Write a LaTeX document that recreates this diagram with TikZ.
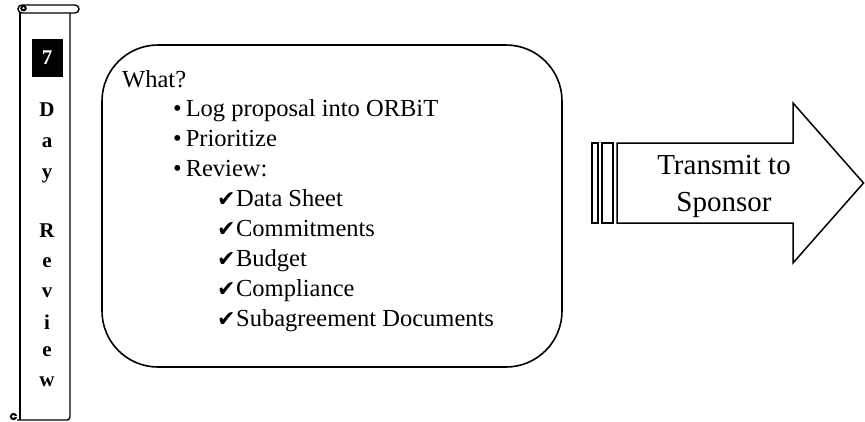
\documentclass[tikz,border=0pt]{standalone}
\usepackage{fontspec}
\setmainfont{Liberation Serif}
\newfontfamily\symfont{DejaVu Sans}
\tikzset{
  outline/.style={draw=black, line width=1.6pt},
  scrollline/.style={draw=black, line width=1.4pt},
  listline/.style={anchor=base west, inner sep=0pt, font=\fontsize{24.5}{28}\selectfont},
  scrollchar/.style={inner sep=0pt, font=\fontsize{21}{23}\selectfont\bfseries},
}
\newcommand{\chk}{{\symfont\fontsize{22}{24}\selectfont ✔}}
\begin{document}
\begin{tikzpicture}[x=1pt,y=-1pt]
\useasboundingbox (0,0) rectangle (865,421);

% ---- vertical scroll ----
\draw[scrollline] (20,13) -- (20,420);
\draw[scrollline, rounded corners=3pt] (70,13) -- (70,420) -- (17,420);
% top roll with its curl
\draw[scrollline, fill=white, rounded corners=4pt] (18,5) rectangle (79,13);
\draw[line width=2pt] (23.5,8.2) circle[radius=2.2pt];
% bottom curl
\draw[line width=2pt] (13.5,416.5) circle[radius=2.6pt];
\fill[white] (15.2,415.8) rectangle (17.5,417.4);

\node[fill=black, minimum width=31pt, minimum height=38pt, inner sep=0pt] (badge) at (47,58) {};
\node[text=white, font=\fontsize{21}{24}\selectfont\bfseries] (seven) at (badge) {7};

\node[scrollchar] (l1) at (47,110) {D};
\node[scrollchar] (l2) at (47,143) {a};
\node[scrollchar] (l3) at (47,176) {y};
\node[scrollchar] (l4) at (47,231) {R};
\node[scrollchar] (l5) at (47,263) {e};
\node[scrollchar] (l6) at (47,293) {v};
\node[scrollchar] (l7) at (47,322) {i};
\node[scrollchar] (l8) at (47,352) {e};
\node[scrollchar] (l9) at (47,382) {w};

% ---- task box ----
\draw[outline, rounded corners=56pt] (102,45) rectangle (562,367);
\node[listline] (what) at (122,87) {What?};
\node[listline] (b1) at (173,116.9) {•\hspace{4pt}Log proposal into ORBiT};
\node[listline] (b2) at (173,146.8) {•\hspace{4pt}Prioritize};
\node[listline] (b3) at (173,176.7) {•\hspace{4pt}Review:};
\node[listline] (c1) at (217,206.6) {\chk\hspace{0.5pt}Data Sheet};
\node[listline] (c2) at (217,236.5) {\chk\hspace{0.5pt}Commitments};
\node[listline] (c3) at (217,266.4) {\chk\hspace{0.5pt}Budget};
\node[listline] (c4) at (217,296.3) {\chk\hspace{0.5pt}Compliance};
\node[listline] (c5) at (217,326.2) {\chk\hspace{0.5pt}Subagreement Documents};

% ---- striped arrow ----
\draw[outline, line width=1.5pt] (592,143) rectangle (598,223);
\draw[outline, line width=1.5pt] (602,143) rectangle (613,223);
\draw[outline, line width=1.5pt, line join=miter] (617,143) -- (793,143) -- (793,103) -- (863.5,183) -- (793,263) -- (793,223) -- (617,223) -- cycle;
\node[align=center, font=\fontsize{29}{37}\selectfont, inner sep=0pt] (send) at (724,186) {Transmit to\\Sponsor};
\end{tikzpicture}
\end{document}
